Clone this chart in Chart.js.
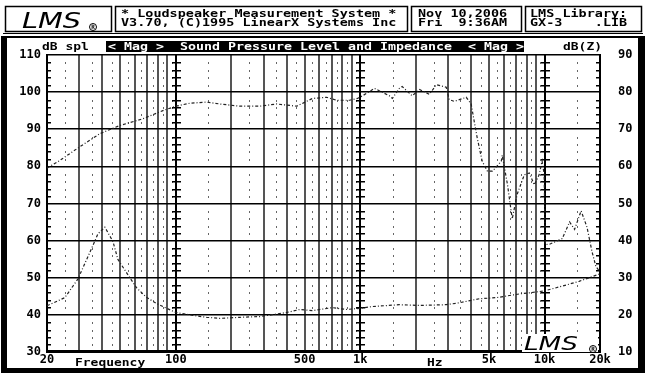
<!DOCTYPE html>
<html>
<head>
<meta charset="utf-8">
<script src="https://cdn.jsdelivr.net/npm/chart.js@4/dist/chart.umd.min.js"></script>
<style>
  html, body { margin: 0; padding: 0; background: #fff; }
  canvas { display: block; }
</style>
</head>
<body>
<canvas id="lmsChart" width="646" height="377"></canvas>
<script>
// SPL curve (dB spl, left axis)
const splFreq = [20, 23.5, 30, 38.7, 49.7, 66, 85, 100, 119, 147, 173, 222, 285, 352, 452, 552, 658, 744, 876, 968,
  1030, 1196, 1440, 1495, 1630, 1690, 1915, 2100, 2375, 2590, 2930, 3040, 3240, 3760, 4000, 4160, 4320, 4590, 4900,
  5220, 5830, 5900, 6300, 6680, 7100, 7770, 8270, 8800, 9350, 9700, 9950, 10100, 10660, 12480, 13680, 14560, 15800,
  17000, 18100, 19000, 20000];
const splDb = [79.5, 81.6, 85.2, 88.8, 91, 92.8, 95, 96.2, 97, 97.3, 96.8, 96.2, 96.2, 96.8, 96.2, 98.3, 98.6, 97.8, 97.8, 98.3,
  99, 101, 99, 98.3, 101, 101.5, 99, 100.7, 99.4, 102, 101.3, 98, 97.5, 98.6, 96.8, 92, 87.5, 81.4, 78.7,
  78.7, 81.4, 83, 75, 65.8, 72.4, 77.7, 78.2, 75, 77.7, 81.4, 78, 58.9, 59, 60.5, 65, 63, 68,
  63.6, 57, 53, 51.5];

// Impedance curve (dB(Z), right axis)
const zFreq = [20, 25, 29.4, 33.4, 37.8, 41.2, 45.6, 48.5, 54.2, 61.4, 69.6, 78.8, 89.4, 100, 124, 147, 173, 222, 285, 334,
  399, 470, 552, 706, 842, 988, 1166, 1630, 2100, 2930, 3440, 4430, 5490, 7300, 8270, 9950, 12480, 15400, 20000];
const zDb = [22.4, 24.6, 29.6, 35.7, 41.8, 43.6, 39.7, 34.9, 31.2, 27.2, 24.6, 23, 21.7, 20.6, 19.8, 19.3, 19, 19.3, 19.5, 20,
  20.6, 21.4, 21.1, 21.9, 21.4, 21.7, 22.2, 22.7, 22.5, 22.7, 23.2, 24.3, 24.6, 25.6, 25.9, 26.4, 27.7, 29, 31];

// grid / tick labels
const xGridHz = [20, 30, 40, 50, 60, 70, 80, 90, 100, 200, 300, 400, 500, 600, 700, 800, 900,
  1000, 2000, 3000, 4000, 5000, 6000, 7000, 8000, 9000, 10000, 20000];
const xMinorHz = [25, 35, 45, 55, 65, 75, 85, 95, 150, 250, 350, 450, 550, 650, 750, 850, 950,
  1500, 2500, 3500, 4500, 5500, 6500, 7500, 8500, 9500, 15000];
const xTickText = { 20: '20', 100: '100', 500: '500', 1000: '1k', 5000: '5k', 10000: '10k', 20000: '20k' };
const splRange = [30, 110];
const zRange = [10, 90];

const MONO = '"DejaVu Sans Mono", "Liberation Mono", monospace';

// draws monospace text stretched so every char is charW wide
function monoText(ctx, str, x, y, charW, color) {
  ctx.save();
  ctx.font = 'bold 11px ' + MONO;
  ctx.fillStyle = color || '#000';
  ctx.textBaseline = 'alphabetic';
  ctx.textAlign = 'left';
  const w = ctx.measureText(str).width;
  ctx.translate(x, y);
  ctx.scale((charW * str.length) / w, 1);
  ctx.fillText(str, 0, 0);
  ctx.restore();
}

function lmsLogo(ctx, x, y, size) {
  ctx.save();
  ctx.font = 'italic ' + size + 'px "DejaVu Sans", sans-serif';
  ctx.fillStyle = '#000';
  ctx.textBaseline = 'alphabetic';
  ctx.translate(x, y);
  ctx.scale(1.25, 0.95);
  ctx.fillText('LMS', 0, 0);
  ctx.restore();
}

function regMark(ctx, x, y) {
  ctx.save();
  ctx.strokeStyle = '#000';
  ctx.lineWidth = 1;
  ctx.beginPath();
  ctx.arc(x, y, 3.5, 0, Math.PI * 2);
  ctx.stroke();
  ctx.font = 'bold 6px ' + MONO;
  ctx.fillStyle = '#000';
  ctx.textAlign = 'center';
  ctx.textBaseline = 'middle';
  ctx.fillText('R', x, y + 0.5);
  ctx.restore();
}

const lmsDecor = {
  id: 'lmsDecor',
  beforeDraw(chart) {
    const ctx = chart.ctx;
    ctx.save();
    ctx.fillStyle = '#fff';
    ctx.fillRect(0, 0, chart.width, chart.height);
    ctx.restore();
  },
  beforeDatasetsDraw(chart) {
    const ctx = chart.ctx;
    const xs = chart.scales.x, ys = chart.scales.y;
    const area = chart.chartArea;
    ctx.save();
    // minor dots every 2 dB at mid-decade columns
    ctx.fillStyle = '#666';
    for (let db = splRange[0] + 2; db < splRange[1]; db += 2) {
      if (db % 10 === 0) continue;
      const py = Math.round(ys.getPixelForValue(db));
      xMinorHz.forEach(f => {
        const px = Math.round(xs.getPixelForValue(f));
        ctx.fillRect(px, py, 1, 2);
      });
      // crosses on 100 / 1k / 10k lines
      ctx.fillStyle = '#000';
      [100, 1000, 10000].forEach(f => {
        const px = Math.round(xs.getPixelForValue(f));
        ctx.fillRect(px - 4, py, 9, 1.5);
      });
      // edge ticks
      ctx.fillRect(area.left, py, 4, 1.5);
      ctx.fillRect(area.right - 4, py, 4, 1.5);
      ctx.fillStyle = '#666';
    }
    ctx.restore();
  },
  afterDatasetsDraw(chart) {
    const ctx = chart.ctx;
    ctx.save();
    // LMS mark inside plot, lower right
    ctx.fillStyle = '#fff';
    ctx.fillRect(522, 334, 76, 18);
    lmsLogo(ctx, 524, 350, 21);
    regMark(ctx, 593, 349);
    ctx.restore();
  },
  afterDraw(chart) {
    const ctx = chart.ctx;
    ctx.save();
    ctx.strokeStyle = '#000';

    // header cells
    ctx.lineWidth = 1.5;
    [[5, 111], [115, 407], [411, 521], [525, 641]].forEach(c => {
      ctx.strokeRect(c[0] + 0.5, 6.5, c[1] - c[0], 25);
    });
    lmsLogo(ctx, 22, 28, 23);
    regMark(ctx, 93, 27);
    monoText(ctx, '* Loudspeaker Measurement System *', 121, 17, 8.1);
    monoText(ctx, 'V3.70, (C)1995 LinearX Systems Inc', 121, 26, 8.1);
    monoText(ctx, 'Nov 10,2006', 418, 17, 8.1);
    monoText(ctx, 'Fri  9:36AM', 418, 26, 8.1);
    monoText(ctx, 'LMS Library:', 530, 17, 8.1);
    monoText(ctx, 'GX-3    .LIB', 530, 26, 8.1);

    // frame under header
    ctx.lineWidth = 1;
    ctx.beginPath();
    ctx.moveTo(3, 33.5); ctx.lineTo(643, 33.5);
    ctx.stroke();
    ctx.lineWidth = 2;
    ctx.beginPath();
    ctx.moveTo(3, 37); ctx.lineTo(643, 37);
    ctx.stroke();
    ctx.fillStyle = '#000';
    ctx.fillRect(1, 36, 6, 337);
    ctx.fillRect(638, 36, 7, 337);
    ctx.fillRect(1, 368, 644, 5);

    // title row
    monoText(ctx, 'dB spl', 42, 50, 7.8);
    ctx.fillStyle = '#000';
    ctx.fillRect(106, 41, 418, 11);
    monoText(ctx, '< Mag >  Sound Pressure Level and Impedance  < Mag >', 108, 50, 8.0, '#fff');
    monoText(ctx, 'dB(Z)', 563, 50, 7.8);

    // axis captions between tick labels
    monoText(ctx, 'Frequency', 75, 366, 7.8);
    monoText(ctx, 'Hz', 427, 366, 7.8);
    ctx.restore();
  }
};

const chart = new Chart(document.getElementById('lmsChart'), {
  type: 'line',
  data: {
    datasets: [
      {
        label: 'SPL',
        data: splFreq.map((f, i) => ({ x: f, y: splDb[i] })),
        yAxisID: 'y',
        borderColor: '#222',
        borderWidth: 1.2,
        borderDash: [3, 2, 1, 2],
        pointRadius: 0,
        tension: 0
      },
      {
        label: 'Impedance',
        data: zFreq.map((f, i) => ({ x: f, y: zDb[i] })),
        yAxisID: 'y1',
        borderColor: '#222',
        borderWidth: 1.2,
        borderDash: [3, 2, 1, 2],
        pointRadius: 0,
        tension: 0
      }
    ]
  },
  options: {
    responsive: false,
    animation: false,
    devicePixelRatio: 1,
    layout: { padding: { top: 55, left: 0, right: 0, bottom: 0 } },
    plugins: {
      legend: { display: false },
      tooltip: { enabled: false },
      title: { display: false }
    },
    scales: {
      x: {
        type: 'logarithmic',
        min: 20,
        max: 20000,
        afterBuildTicks: s => { s.ticks = xGridHz.map(v => ({ value: v })); },
        afterFit: s => { s.height = 20; },
        grid: {
          color: c => ([100, 1000, 10000].includes(c.tick.value) ? '#000' : '#555'),
          lineWidth: 2,
          drawTicks: false
        },
        border: { display: true, color: '#000', width: 3 },
        ticks: {
          autoSkip: false,
          maxRotation: 0,
          minRotation: 0,
          padding: 1,
          color: '#000',
          font: { family: MONO, weight: 'bold', size: 12 },
          callback: v => xTickText[v] || ''
        }
      },
      y: {
        position: 'left',
        min: splRange[0],
        max: splRange[1],
        afterFit: s => { s.width = 47; },
        grid: { color: '#000', lineWidth: 1.6, drawTicks: false },
        border: { display: true, color: '#000', width: 2 },
        ticks: {
          stepSize: 10,
          padding: 6,
          color: '#000',
          font: { family: MONO, weight: 'bold', size: 12 }
        }
      },
      y1: {
        position: 'right',
        min: zRange[0],
        max: zRange[1],
        afterFit: s => { s.width = 46; },
        grid: { display: false, drawTicks: false },
        border: { display: true, color: '#000', width: 2 },
        ticks: {
          stepSize: 10,
          padding: 18,
          color: '#000',
          font: { family: MONO, weight: 'bold', size: 12 }
        }
      }
    }
  },
  plugins: [lmsDecor]
});
</script>
</body>
</html>
